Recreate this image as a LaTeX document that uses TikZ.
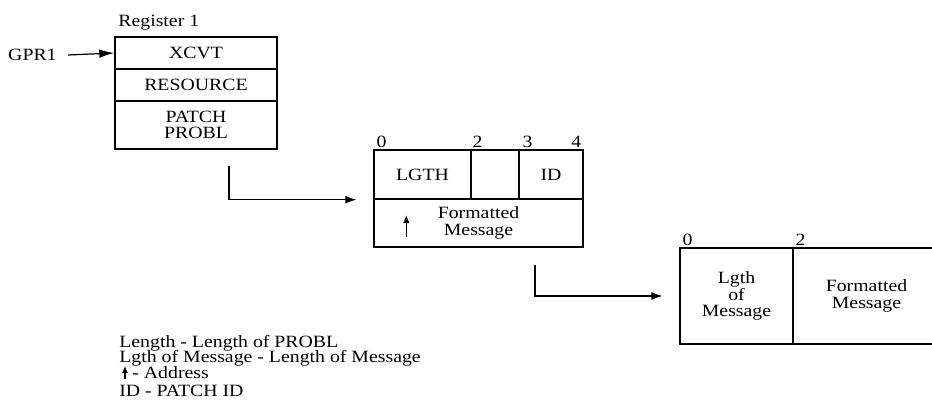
\documentclass[tikz,border=0pt]{standalone}
\usepackage{fontspec}
\setmainfont{Liberation Serif}[FakeStretch=1.15]
\usetikzlibrary{arrows.meta,calc,positioning}

\begin{document}
\begin{tikzpicture}[x=0.2mm,y=-0.2mm,
every node/.style={font=\fontsize{9.8}{9.5}\selectfont},
field/.style={draw,rectangle,line width=0.8pt,inner sep=0pt,align=center},
offs/.style={inner sep=0.6pt,anchor=south west},
legend/.style={anchor=base west,inner sep=0pt,font=\fontsize{9.8}{9}\selectfont},
link/.style={line width=0.6pt,-{Latex[length=2.2mm,width=1.6mm]}}]
\useasboundingbox (0,0) rectangle (932,400);
\clip (0,0) rectangle (932,400);
% register 1
\node[field,minimum width=32.4mm,minimum height=6.4mm] (xcvt) at (196,53) {XCVT};
\node[field,minimum width=32.4mm,minimum height=6.4mm] (resrc) at (196,85) {RESOURCE};
\node[field,minimum width=32.4mm,minimum height=9.6mm] (patch) at (196,125) {PATCH\\PROBL};
\node[anchor=base west,inner sep=0pt] (reg) at (118,26) {Register 1};
\node[anchor=east,inner sep=0pt] (gpr) at (57,55) {GPR1};
\draw[line width=0.7pt,-{Latex[length=3mm,width=1.7mm]}] ([xshift=2.2mm]gpr.east) -- (xcvt.west);
% problem block
\node[field,minimum width=19.4mm,minimum height=9.8mm] (lgth) at (422.5,174.5) {LGTH};
\node[field,minimum width=9.6mm,minimum height=9.8mm] (blank) at (495,174.5) {};
\node[field,minimum width=12.8mm,minimum height=9.8mm] (id) at (551,174.5) {ID};
\node[field,minimum width=41.8mm,minimum height=9.6mm] (fmsg) at (478.5,223) {Formatted\\Message};
\node[offs] (o0) at ($(lgth.north west)+(2,0)$) {0};
\node[offs] (o2) at ($(blank.north west)+(1,0)$) {2};
\node[offs] (o3) at ($(id.north west)+(3,0)$) {3};
\node[offs,anchor=south east] (o4) at ($(id.north east)+(-1,0)$) {4};
\coordinate (up1) at ($(fmsg.west)+(33,14)$);
\coordinate (up2) at ($(fmsg.west)+(33,-8)$);
\draw[line width=0.7pt,-{Latex[length=1.6mm,width=1.3mm]}] (up1) -- (up2);
% message block
\node[field,minimum width=22.6mm,minimum height=19.2mm] (lom) at (736.5,296) {Lgth\\of\\Message};
\node[field,minimum width=29.4mm,minimum height=19.2mm] (fm) at (866.5,296) {Formatted\\Message};
\node[offs] (p0) at ($(lom.north west)+(2,0)$) {0};
\node[offs] (p2) at ($(fm.north west)+(2,0)$) {2};
% connectors
\coordinate (c1) at ($(patch.south)+(33,16)$);
\coordinate (c1e) at ($(lgth.south west)+(-17,0)$);
\draw[link] (c1) |- (c1e);
\coordinate (c2) at ($(fmsg.south)+(56.5,17)$);
\coordinate (c2e) at ($(lom.west)+(-17,0)$);
\draw[link] (c2) |- (c2e);
% legend
\node[legend] (leg1) at (119,347) {Length - Length of PROBL};
\node[legend] (leg2) at (119,362) {Lgth of Message - Length of Message};
\node[legend] (leg3) at (132,378) {- Address};
\node[legend] (leg4) at (119,396) {ID - PATCH ID};
\coordinate (ad1) at (125,379);
\coordinate (ad2) at (125,366);
\draw[line width=0.6pt,-{Latex[length=1.4mm,width=1.2mm]}] (ad1) -- (ad2);
\end{tikzpicture}
\end{document}
